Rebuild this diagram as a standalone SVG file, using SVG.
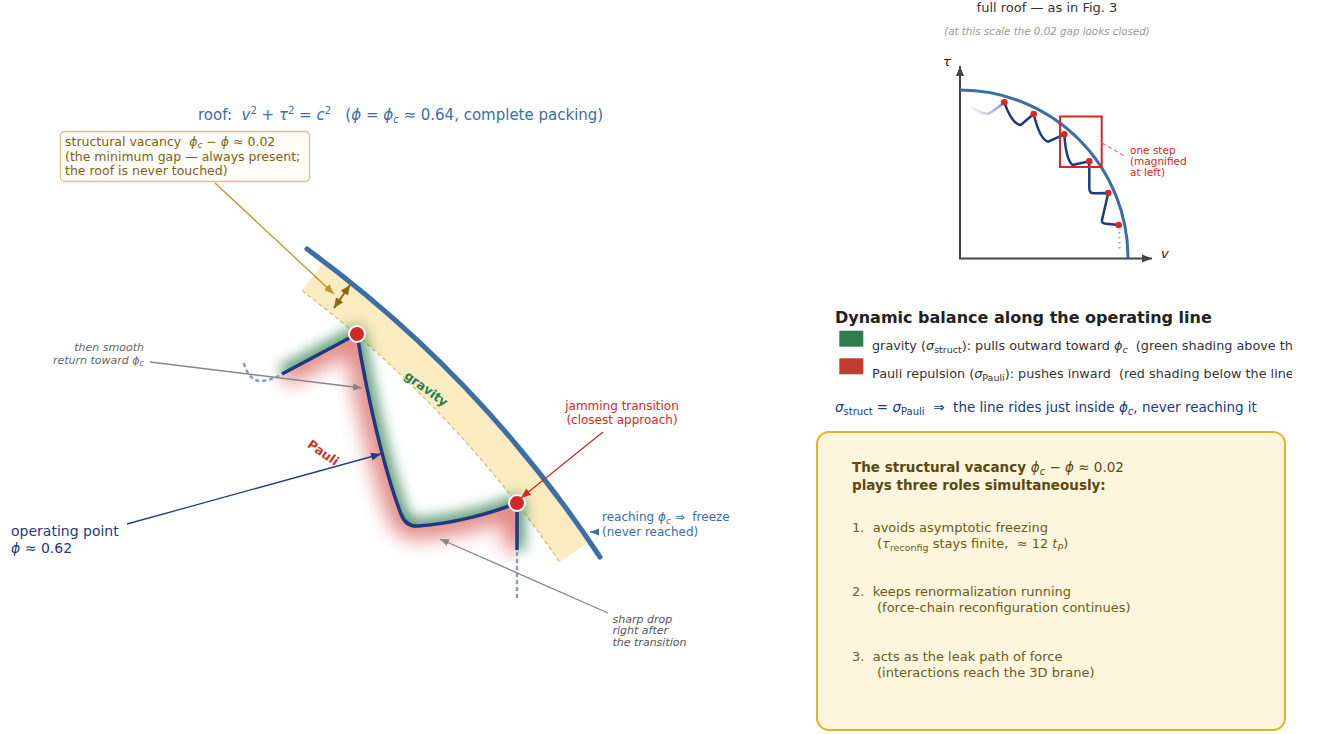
<svg xmlns="http://www.w3.org/2000/svg" width="1321" height="734" viewBox="0 0 1321 734">
<defs>
<style>
text{font-family:"DejaVu Sans","Liberation Sans",sans-serif;white-space:pre}
.it{font-style:italic}
.b{font-weight:bold}
.n{font-weight:normal}
.dot{fill:#d62728;stroke:#fff;stroke-width:2}
.idot{fill:#d62728}
.ann{fill:none;stroke-width:1.3}
.dotted{fill:none;stroke:#8a9cc4;stroke-width:2.5;stroke-dasharray:2 5;stroke-linecap:round}
</style>
<marker id="aGrey" viewBox="0 0 10 10" refX="10" refY="5" markerWidth="9" markerHeight="9" markerUnits="userSpaceOnUse" orient="auto"><path d="M0,1 L10,5 L0,9 Z" fill="#888"/></marker>
<marker id="aNavy" viewBox="0 0 10 10" refX="10" refY="5" markerWidth="10" markerHeight="10" markerUnits="userSpaceOnUse" orient="auto"><path d="M0,1 L10,5 L0,9 Z" fill="#1f3d80"/></marker>
<marker id="aRed" viewBox="0 0 10 10" refX="10" refY="5" markerWidth="10" markerHeight="10" markerUnits="userSpaceOnUse" orient="auto"><path d="M0,1 L10,5 L0,9 Z" fill="#d62728"/></marker>
<marker id="aGold" viewBox="0 0 10 10" refX="10" refY="5" markerWidth="10" markerHeight="10" markerUnits="userSpaceOnUse" orient="auto"><path d="M0,1 L10,5 L0,9 Z" fill="#b8962e"/></marker>
<marker id="aBrown" viewBox="0 0 10 10" refX="10" refY="5" markerWidth="10" markerHeight="10" markerUnits="userSpaceOnUse" orient="auto-start-reverse"><path d="M0,0.5 L10,5 L0,9.5 Z" fill="#8b6914"/></marker>
<marker id="aBlue" viewBox="0 0 10 10" refX="10" refY="5" markerWidth="9" markerHeight="9" markerUnits="userSpaceOnUse" orient="auto"><path d="M0,1 L10,5 L0,9 Z" fill="#3a6ea5"/></marker>
<marker id="aAxis" viewBox="0 0 10 10" refX="10" refY="5" markerWidth="10" markerHeight="10" markerUnits="userSpaceOnUse" orient="auto"><path d="M0,1 L10,5 L0,9 Z" fill="#444"/></marker>
<filter id="bG" x="-50%" y="-50%" width="200%" height="200%"><feGaussianBlur stdDeviation="7"/></filter>
<filter id="bR" x="-50%" y="-50%" width="200%" height="200%"><feGaussianBlur stdDeviation="10"/></filter>
<path id="op" fill="none" d="M282,374 L357,334 C367,395 384,470 401,514 Q406,527 418,526 C450,524 490,514 517,503 L517,550"/>
<clipPath id="clipG"><path d="M282,374 L357,334 C367,395 384,470 401,514 Q406,527 418,526 C450,524 490,514 517,503 L517,560 L660,560 L660,180 L180,180 L180,429 Z"/></clipPath>
<clipPath id="clipR"><path d="M282,374 L357,334 C367,395 384,470 401,514 Q406,527 418,526 C450,524 490,514 517,503 L517,560 L517,660 L180,660 L180,429 Z"/></clipPath>
<clipPath id="clipLeg"><rect x="830" y="300" width="462" height="120"/></clipPath>
<linearGradient id="fade" gradientUnits="userSpaceOnUse" x1="970" y1="0" x2="1004" y2="0"><stop offset="0" stop-color="#c5d0e6" stop-opacity="0.3"/><stop offset="1" stop-color="#7f95c4"/></linearGradient>
</defs>
<rect width="1321" height="734" fill="#fff"/>

<!-- left main diagram -->
<g id="title-roof">
<text x="198" y="120" font-size="15" fill="#3a6ea5">roof:  <tspan class="it">v</tspan><tspan font-size="10" dy="-6">2</tspan><tspan dy="6"> + </tspan><tspan class="it">τ</tspan><tspan font-size="10" dy="-6">2</tspan><tspan dy="6"> = </tspan><tspan class="it">c</tspan><tspan font-size="10" dy="-6">2</tspan><tspan dy="6">   (</tspan><tspan class="it">ϕ</tspan> = <tspan class="it">ϕ</tspan><tspan class="it" font-size="10" dy="3">c</tspan><tspan dy="-3"> ≈ 0.64, complete packing)</tspan></text>
</g>

<g id="vacancy-band">
<path d="M302,290.6 L322.9,263.2 A1198,1198 0 0 1 588,542.4 L559.5,561.9 A1163.5,1163.5 0 0 0 302,290.6 Z" fill="#faebc0"/>
<path d="M302,290.6 A1163.5,1163.5 0 0 1 559.5,561.9" fill="none" stroke="#d6b96a" stroke-width="1.2" stroke-dasharray="4 3"/>
<text transform="translate(426,389) rotate(36)" x="0" y="4" text-anchor="middle" font-size="12.5" class="b" fill="#2e7d4a">gravity</text>
</g>

<g id="roof">
<path d="M307,249 A1200,1200 0 0 1 600,557" fill="none" stroke="#3a6ea5" stroke-width="5" stroke-linecap="round"/>
</g>

<g id="operating-line">
<g clip-path="url(#clipR)"><use href="#op" stroke="#d75a55" stroke-width="26" stroke-linejoin="round" opacity="0.75" filter="url(#bR)"/></g>
<g clip-path="url(#clipG)"><use href="#op" stroke="#2a7a48" stroke-width="14" stroke-linejoin="round" opacity="0.85" filter="url(#bG)"/></g>
<path class="dotted" d="M244,364 Q250,382 262,381 Q272,380 282,374"/>
<path class="dotted" d="M517,553 L517,598"/>
<use href="#op" stroke="#1c3a80" stroke-width="3.5" stroke-linejoin="round"/>
<text transform="translate(323,453) rotate(35)" x="0" y="4" text-anchor="middle" font-size="12.5" class="b" fill="#c9362c">Pauli</text>
</g>

<g id="node-peak"><circle class="dot" cx="357" cy="334" r="8"/></g>
<g id="node-jamming"><circle class="dot" cx="517" cy="503" r="8"/></g>

<g id="connectors">
<line x1="215" y1="183" x2="334" y2="294" class="ann" stroke="#b8962e" marker-end="url(#aGold)"/>
<line x1="334" y1="308" x2="350" y2="285" stroke="#8b6914" stroke-width="2" marker-start="url(#aBrown)" marker-end="url(#aBrown)"/>
<line x1="150" y1="362" x2="362" y2="388" class="ann" stroke="#888" marker-end="url(#aGrey)"/>
<line x1="127" y1="524" x2="381" y2="454" class="ann" stroke="#1f3d80" marker-end="url(#aNavy)"/>
<line x1="603" y1="432" x2="521" y2="498" class="ann" stroke="#d62728" marker-end="url(#aRed)"/>
<line x1="599" y1="532" x2="590" y2="532" class="ann" stroke="#3a6ea5" marker-end="url(#aBlue)"/>
<line x1="608" y1="613" x2="440" y2="539" class="ann" stroke="#888" marker-end="url(#aGrey)"/>
</g>

<g id="label-vacancy">
<rect x="60.5" y="131.5" width="249" height="50" rx="4" fill="#fffdf6" stroke="#d9c083" stroke-width="1.3"/>
<text x="65" y="146" font-size="12.5" fill="#7d5f1f">structural vacancy  <tspan class="it">ϕ</tspan><tspan class="it" font-size="9" dy="2">c</tspan><tspan dy="-2"> − </tspan><tspan class="it">ϕ</tspan> ≈ 0.02</text>
<text x="65" y="160.5" font-size="12.5" fill="#7d5f1f">(the minimum gap — always present;</text>
<text x="65" y="174.5" font-size="12.5" fill="#7d5f1f">the roof is never touched)</text>
</g>

<g id="label-smooth">
<text x="144" y="351" font-size="11" class="it" fill="#666" text-anchor="end">then smooth</text>
<text x="144" y="363.5" font-size="11" class="it" fill="#666" text-anchor="end">return toward ϕ<tspan font-size="8" dy="2.5">c</tspan></text>
</g>

<g id="label-operating">
<text x="11" y="536" font-size="14" fill="#1c3a80">operating point</text>
<text x="11" y="553" font-size="14" fill="#1c3a80"><tspan class="it">ϕ</tspan> ≈ 0.62</text>
</g>

<g id="label-jamming">
<text x="622" y="409.5" font-size="12" fill="#d62728" text-anchor="middle">jamming transition</text>
<text x="622" y="423.5" font-size="12" fill="#d62728" text-anchor="middle">(closest approach)</text>
</g>

<g id="label-freeze">
<text x="602" y="521" font-size="12" fill="#3a6ea5">reaching <tspan class="it">ϕ</tspan><tspan class="it" font-size="9" dy="3">c</tspan><tspan dy="-3"> ⇒  freeze</tspan></text>
<text x="602" y="536" font-size="12" fill="#3a6ea5">(never reached)</text>
</g>

<g id="label-drop">
<text x="612.5" y="623" font-size="11" class="it" fill="#555">sharp drop</text>
<text x="612.5" y="634.3" font-size="11" class="it" fill="#555">right after</text>
<text x="612.5" y="645.6" font-size="11" class="it" fill="#555">the transition</text>
</g>

<!-- inset -->
<g id="inset">
<text x="1047" y="12" font-size="13" fill="#333" text-anchor="middle">full roof — as in Fig. 3</text>
<text x="1047" y="34.5" font-size="10.3" class="it" fill="#999" text-anchor="middle">(at this scale the 0.02 gap looks closed)</text>
<line x1="960" y1="259" x2="960" y2="66" stroke="#444" stroke-width="2" marker-end="url(#aAxis)"/>
<line x1="959" y1="258.5" x2="1152" y2="258.5" stroke="#444" stroke-width="2" marker-end="url(#aAxis)"/>
<text x="943" y="66" font-size="13" class="it" fill="#222">τ</text>
<text x="1161" y="258" font-size="13" class="it" fill="#222">v</text>
<path d="M960,90 A168,168 0 0 1 1128,258" fill="none" stroke="#3a6ea5" stroke-width="3"/>
<path d="M971.7,107.3 Q983,115 988.5,113.5 Q994,111 1004.3,102.3" fill="none" stroke="url(#fade)" stroke-width="2.5" stroke-linecap="round"/>
<path d="M1004.3,102.3 Q1012,124 1020.7,125 L1033.7,114 Q1040,140 1048.3,141.7 L1064.3,134.3 Q1066,160 1072.7,165 L1089.3,161.3 L1089.3,188 Q1089.3,193.5 1094,193.3 L1108.3,193 L1102,220 Q1101.5,223.5 1106,223.8 L1118.7,225" fill="none" stroke="#1c3a80" stroke-width="2.5" stroke-linejoin="round" stroke-linecap="round"/>
<path d="M1119.3,232 L1119.7,252" fill="none" stroke="#9aa5b8" stroke-width="2" stroke-dasharray="1.5 3.5"/>
<circle class="idot" cx="1004.3" cy="102.3" r="3.3"/>
<circle class="idot" cx="1033.7" cy="114" r="3.3"/>
<circle class="idot" cx="1064.3" cy="134.3" r="3.3"/>
<circle class="idot" cx="1089.3" cy="161.3" r="3.3"/>
<circle class="idot" cx="1108.3" cy="193" r="3.3"/>
<circle class="idot" cx="1118.7" cy="225" r="3.3"/>
<rect x="1060" y="116.5" width="41.7" height="50.5" fill="none" stroke="#d62728" stroke-width="2"/>
<line x1="1102" y1="143" x2="1126" y2="157" stroke="#e57373" stroke-width="1.2" stroke-dasharray="4 3"/>
<text x="1130" y="154" font-size="10.5" fill="#d62728">one step</text>
<text x="1130" y="165" font-size="10.5" fill="#d62728">(magnified</text>
<text x="1130" y="176" font-size="10.5" fill="#d62728">at left)</text>
</g>

<!-- legend -->
<g id="legend" clip-path="url(#clipLeg)">
<text x="835" y="323" font-size="16" class="b" fill="#222">Dynamic balance along the operating line</text>
<rect x="839.3" y="330.7" width="24" height="16" fill="#2e7d4a"/>
<rect x="839.3" y="358.3" width="24" height="16" fill="#c33b2e"/>
<text x="872" y="350" font-size="12.8" fill="#333">gravity (<tspan class="it">σ</tspan><tspan font-size="9.5" dy="3">struct</tspan><tspan dy="-3">): pulls outward toward </tspan><tspan class="it">ϕ</tspan><tspan class="it" font-size="9.5" dy="3">c</tspan><tspan dy="-3">  (green shading above th</tspan></text>
<text x="872" y="378" font-size="12.8" fill="#333">Pauli repulsion (<tspan class="it">σ</tspan><tspan font-size="9.5" dy="3">Pauli</tspan><tspan dy="-3">): pushes inward  (red shading below the line</tspan></text>
<text x="835" y="412" font-size="13.5" fill="#1c3a80"><tspan class="it">σ</tspan><tspan font-size="10" dy="3">struct</tspan><tspan dy="-3"> = </tspan><tspan class="it">σ</tspan><tspan font-size="10" dy="3">Pauli</tspan><tspan dy="-3">  ⇒  the line rides just inside </tspan><tspan class="it">ϕ</tspan><tspan class="it" font-size="10" dy="3">c</tspan><tspan dy="-3">, never reaching it</tspan></text>
</g>

<!-- roles box -->
<g id="roles-box">
<rect x="817" y="432" width="468" height="298" rx="12" fill="#fdf6dc" stroke="#e3b526" stroke-width="2"/>
<text x="852" y="471.5" font-size="13.5" class="b" fill="#5a4a12">The structural vacancy <tspan class="it n">ϕ</tspan><tspan class="it n" font-size="10" dy="3">c</tspan><tspan class="n" dy="-3"> − </tspan><tspan class="it n">ϕ</tspan><tspan class="n"> ≈ 0.02</tspan></text>
<text x="852" y="490" font-size="13.5" class="b" fill="#5a4a12">plays three roles simultaneously:</text>
<text x="852" y="531.5" font-size="13" fill="#6b5a1e">1.  avoids asymptotic freezing</text>
<text x="877" y="548" font-size="13" fill="#6b5a1e">(<tspan class="it">τ</tspan><tspan font-size="9.5" dy="3">reconfig</tspan><tspan dy="-3"> stays finite,  ≈ 12 </tspan><tspan class="it">t</tspan><tspan class="it" font-size="9.5" dy="3">P</tspan><tspan dy="-3">)</tspan></text>
<text x="852" y="596" font-size="13" fill="#6b5a1e">2.  keeps renormalization running</text>
<text x="877" y="612" font-size="13" fill="#6b5a1e">(force-chain reconfiguration continues)</text>
<text x="852" y="660.5" font-size="13" fill="#6b5a1e">3.  acts as the leak path of force</text>
<text x="877" y="676.5" font-size="13" fill="#6b5a1e">(interactions reach the 3D brane)</text>
</g>
</svg>
